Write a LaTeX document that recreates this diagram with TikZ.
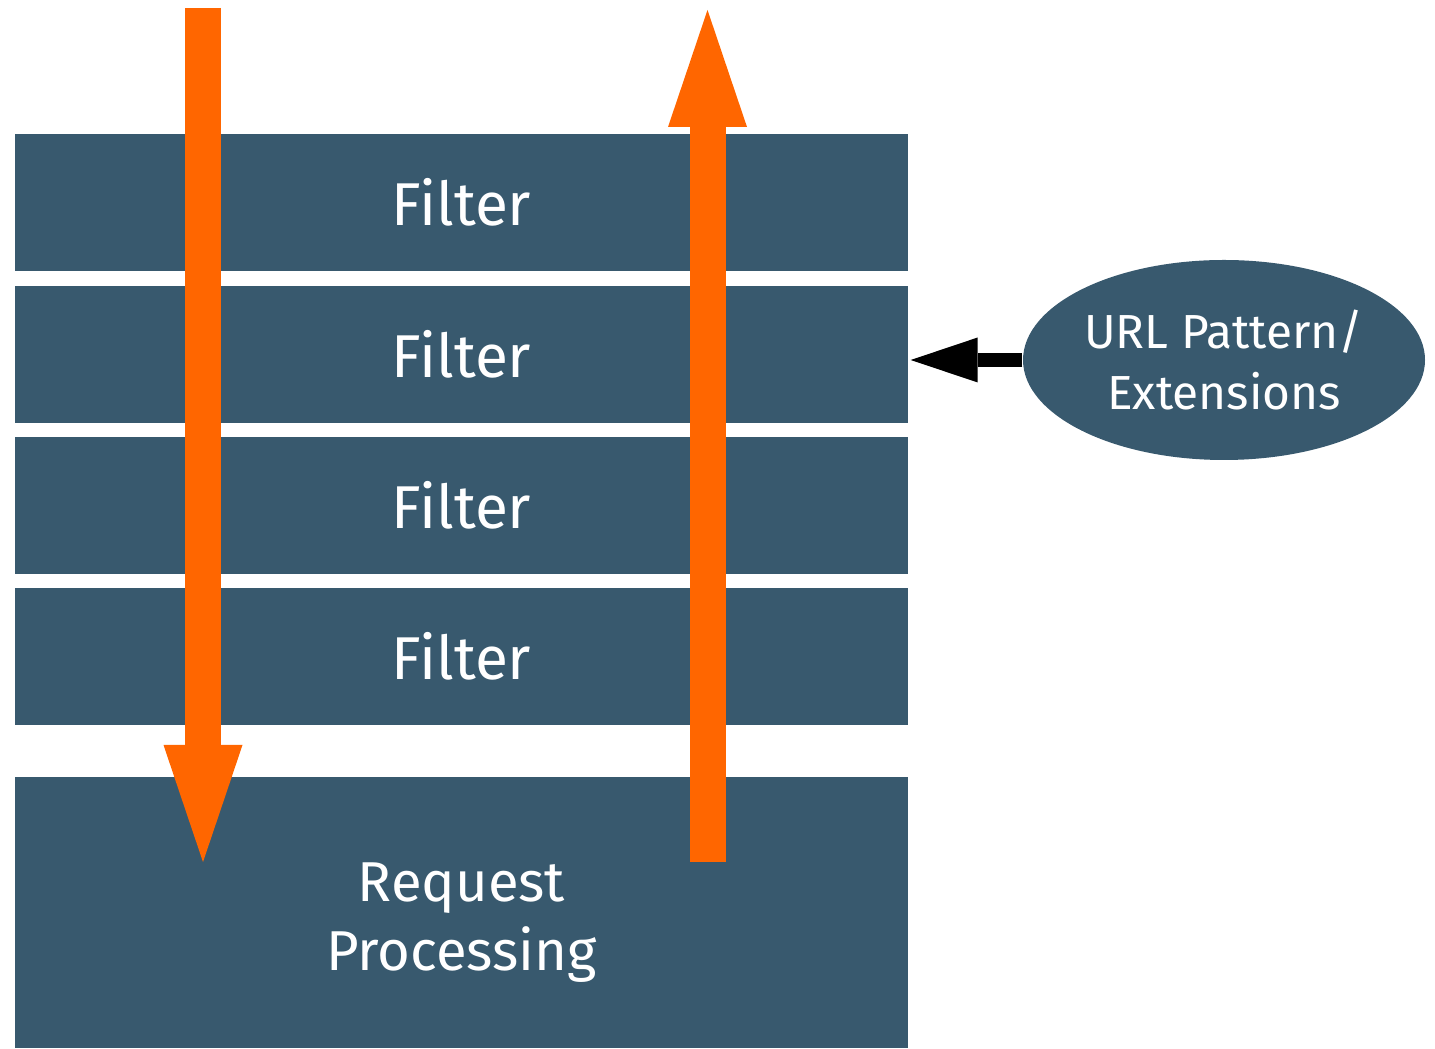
\documentclass[tikz,border=0pt]{standalone}
\usepackage{fontspec}
\setmainfont{Fira Sans}
\usetikzlibrary{arrows.meta,shapes.geometric}
\definecolor{slate}{RGB}{56,89,110}
\definecolor{flow}{RGB}{255,102,0}
\tikzset{
  layer/.style={fill=slate, text=white, minimum width=8.93cm, minimum height=1.37cm,
    inner sep=0pt, align=center, font=\fontsize{17.2}{20}\selectfont},
  flowarrow/.style={draw=flow, line width=3.6mm,
    -{Triangle[width=7.9mm,length=11.7mm,line width=0pt]}},
}

\begin{document}
\begin{tikzpicture}
		%%%%% START %%%%%
		\useasboundingbox (0, 0) rectangle (14.35, 10.48);
		
		\node[layer] (filter1) at (4.615, 8.455) {Filter};
		\node[layer] (filter2) at (4.615, 6.935) {Filter};
		\node[layer] (filter3) at (4.615, 5.425) {Filter};
		\node[layer] (filter4) at (4.615, 3.915) {Filter};
		\node[layer, minimum height=2.71cm] (proc) at (4.615, 1.355) {};
		\node[text=white, align=center, font=\fontsize{16}{19.8}\selectfont]
		  (procLabel) at ([yshift=-0.1cm]proc.center) {Request\\Processing};
		
		\node[ellipse, fill=slate, text=white, minimum width=4.02cm, minimum height=2cm,
		  inner sep=0pt, align=center, font=\fontsize{13.6}{17.6}\selectfont]
		  (url) at (12.24, 6.88) {URL Pattern/\\Extensions};
		
		\coordinate (reqTop) at (2.03, 10.40);
		\coordinate (reqEnd) at (2.03, 1.86);
		\coordinate (respStart) at (7.075, 1.86);
		\coordinate (respTop) at (7.075, 10.38);
		
		\draw[flowarrow] (reqTop) -- (reqEnd);
		\draw[flowarrow] (respStart) -- (respTop);
		
		\draw[line width=1.4mm, -{Triangle[width=4.5mm,length=6.7mm,line width=0pt]}]
		  (url.west) -- ([xshift=0.02cm]filter2.east |- url.west);
		%%%%% END %%%%%
\end{tikzpicture}
\end{document}
